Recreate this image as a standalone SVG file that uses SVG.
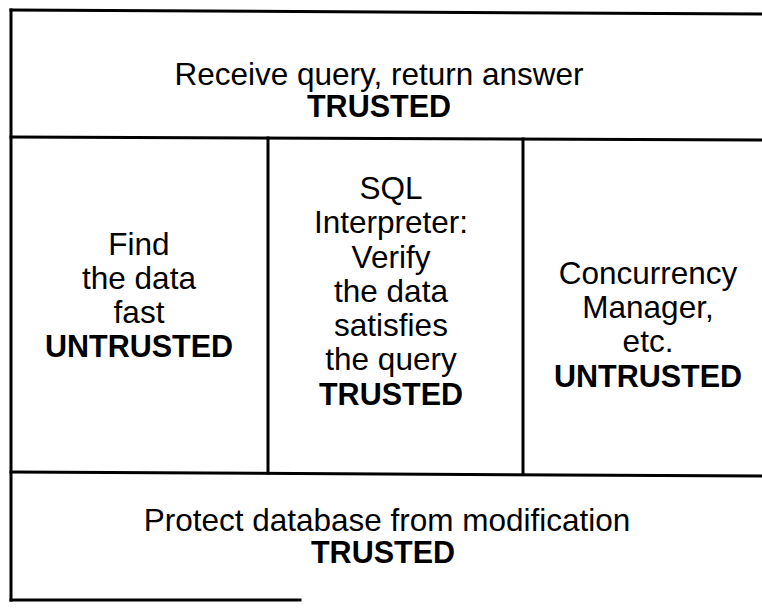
<svg xmlns="http://www.w3.org/2000/svg" width="762" height="616" viewBox="0 0 762 616">
<style>
.t{font-family:"Liberation Sans",Arial,Helvetica,sans-serif;font-size:31.5px;fill:#000;text-anchor:middle}
.b{font-weight:bold;font-size:30.5px}
.ln{stroke:#000;stroke-width:3;fill:none;stroke-linecap:square}
</style>
<rect width="762" height="616" fill="#fff"/>
<g id="connectors">
<line class="ln" x1="11" y1="10" x2="762" y2="14"/>
<line class="ln" x1="11" y1="10" x2="11" y2="600"/>
<line class="ln" x1="11" y1="137" x2="762" y2="140"/>
<line class="ln" x1="11" y1="472" x2="762" y2="476"/>
<line class="ln" x1="11" y1="600" x2="300" y2="600"/>
<line class="ln" x1="268" y1="138" x2="268" y2="473"/>
<line class="ln" x1="523" y1="139" x2="523" y2="474"/>
</g>
<g id="top">
<text class="t" x="379" y="85">Receive query, return answer</text>
<text class="t b" x="379" y="117">TRUSTED</text>
</g>
<g id="left">
<text class="t" x="139" y="255">Find</text>
<text class="t" x="139" y="289">the data</text>
<text class="t" x="139" y="323">fast</text>
<text class="t b" x="139" y="357">UNTRUSTED</text>
</g>
<g id="middle">
<text class="t" x="391" y="199">SQL</text>
<text class="t" x="391" y="233">Interpreter:</text>
<text class="t" x="391" y="268">Verify</text>
<text class="t" x="391" y="302">the data</text>
<text class="t" x="391" y="336">satisfies</text>
<text class="t" x="391" y="370">the query</text>
<text class="t b" x="391" y="405">TRUSTED</text>
</g>
<g id="right">
<text class="t" x="648" y="284">Concurrency</text>
<text class="t" x="648" y="318">Manager,</text>
<text class="t" x="648" y="352">etc.</text>
<text class="t b" x="648" y="387">UNTRUSTED</text>
</g>
<g id="bottom">
<text class="t" x="387" y="531">Protect database from modification</text>
<text class="t b" x="383" y="563">TRUSTED</text>
</g>
</svg>
